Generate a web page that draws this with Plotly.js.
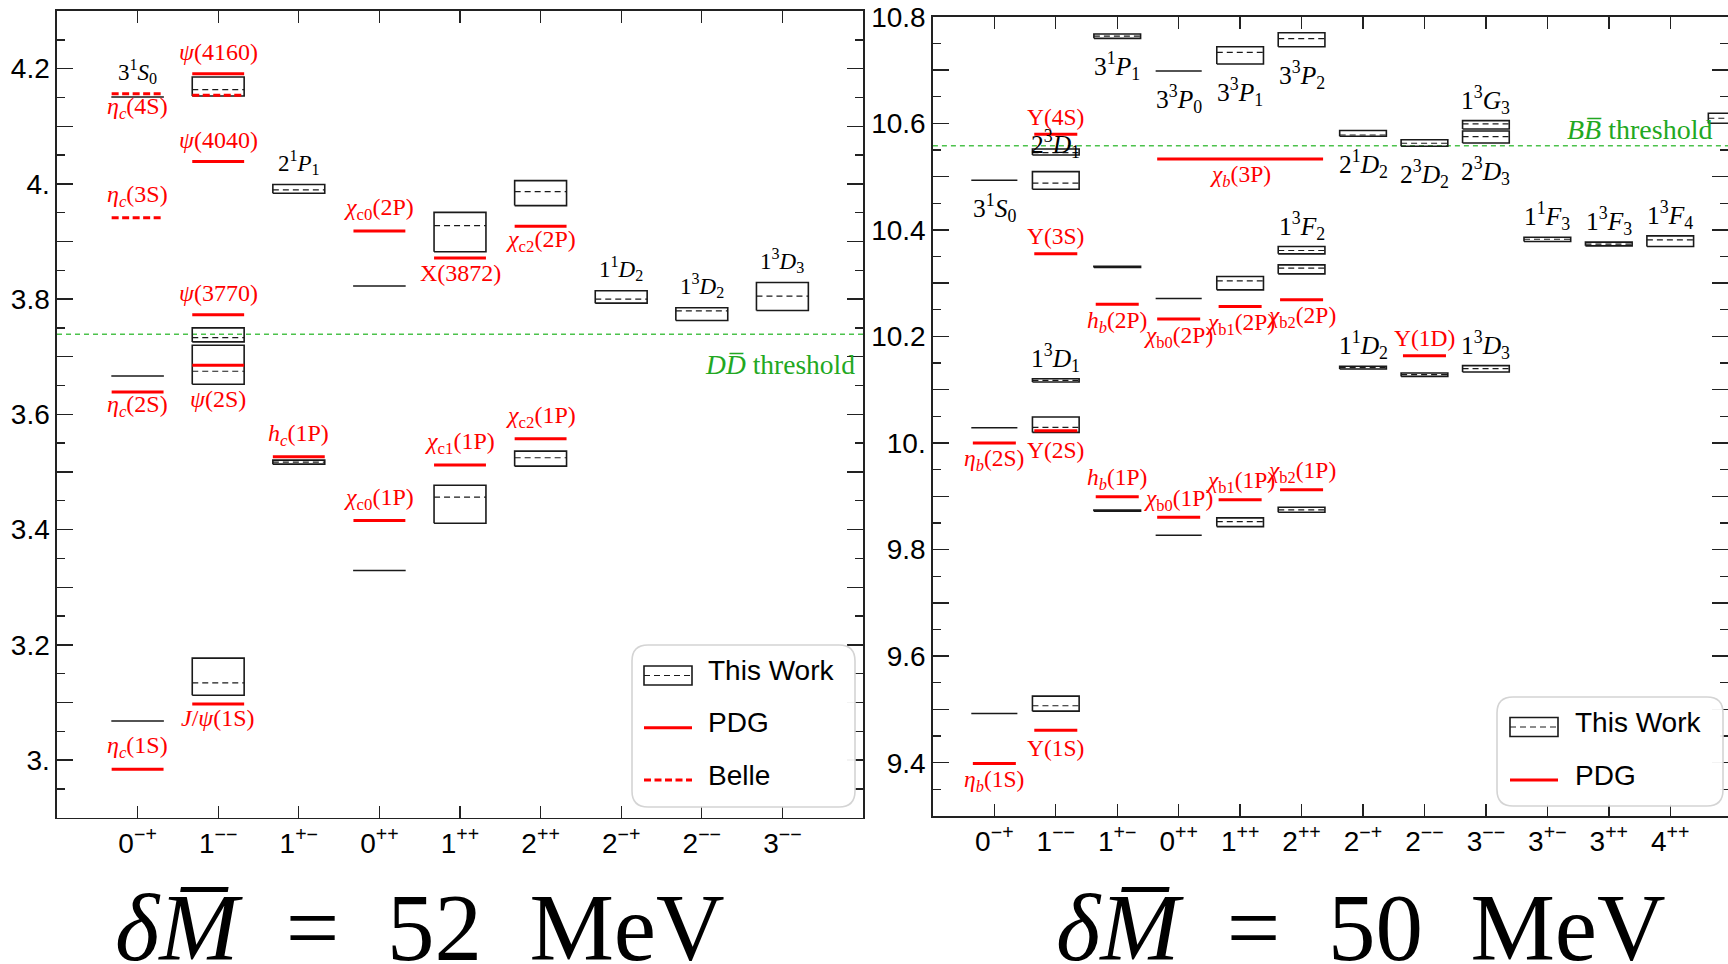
<!DOCTYPE html>
<html><head><meta charset="utf-8">
<script src="https://cdn.plot.ly/plotly-3.0.1.min.js"></script>
<style>html,body{margin:0;padding:0;background:#fff;overflow:hidden}#chart{width:1728px;height:964px}</style>
</head><body><div id="chart"></div>
<script>
// ================= DATA: charmonium (left panel), GeV =================
const ccCategories = ['0<sup>−+</sup>','1<sup>−−</sup>','1<sup>+−</sup>','0<sup>++</sup>','1<sup>++</sup>','2<sup>++</sup>','2<sup>−+</sup>','2<sup>−−</sup>','3<sup>−−</sup>'];
const ccYTickVals = [3.0, 3.2, 3.4, 3.6, 3.8, 4.0, 4.2];
const ccYTickText = ['3.', '3.2', '3.4', '3.6', '3.8', '4.', '4.2'];
// This Work (boxes: category index, low, high, central)
const ccBoxCat  = [2, 2, 2, 2, 3, 3, 5, 5, 6, 6, 7, 8, 9];
const ccBoxLow  = [4.1524, 3.7257, 3.6522, 3.1125, 3.9837, 3.5136, 3.8823, 3.4110, 3.9623, 3.5101, 3.7930, 3.7628, 3.7802];
const ccBoxHigh = [4.1854, 3.7501, 3.7200, 3.1769, 3.9988, 3.5205, 3.9506, 3.4770, 4.0057, 3.5362, 3.8144, 3.7849, 3.8289];
const ccBoxMid  = [4.1635, 3.7333, 3.6748, 3.1339, 3.9896, 3.5170, 3.9275, 3.4562, 3.9866, 3.5247, 3.8000, 3.7797, 3.8052];
// This Work (single levels)
const ccLineCat = [1, 1, 1, 4, 4];
const ccLineVal = [4.1506, 3.6667, 3.0680, 3.8226, 3.3292];
// PDG
const ccPdgCat = [1, 1, 2, 2, 2, 2, 2, 3, 4, 4, 5, 5, 6, 6];
const ccPdgVal = [3.6388, 2.9840, 4.1910, 4.0388, 3.7727, 3.6852, 3.0974, 3.5264, 3.9183, 3.4157, 3.8713, 3.5119, 3.9263, 3.5577];
// Belle
const ccBelleCat = [1, 1, 2];
const ccBelleVal = [4.1565, 3.9414, 4.1536];
// Threshold
const ccThreshold = 3.739;
// Level labels: text, category, value of the level it labels, side (a = above, b = below), PDG?
const ccLabelText = ['3<sup>1</sup><i>S</i><sub>0</sub>', '<i>η</i><sub><i>c</i></sub>(4S)', '<i>η</i><sub><i>c</i></sub>(3S)', '<i>η</i><sub><i>c</i></sub>(2S)', '<i>η</i><sub><i>c</i></sub>(1S)',
  '<i>ψ</i>(4160)', '<i>ψ</i>(4040)', '<i>ψ</i>(3770)', '<i>ψ</i>(2S)', '<i>J</i>/<i>ψ</i>(1S)',
  '2<sup>1</sup><i>P</i><sub>1</sub>', '<i>h</i><sub><i>c</i></sub>(1P)', '<i>χ</i><sub>c0</sub>(2P)', '<i>χ</i><sub>c0</sub>(1P)',
  'X(3872)', '<i>χ</i><sub>c1</sub>(1P)', '<i>χ</i><sub>c2</sub>(2P)', '<i>χ</i><sub>c2</sub>(1P)',
  '1<sup>1</sup><i>D</i><sub>2</sub>', '1<sup>3</sup><i>D</i><sub>2</sub>', '1<sup>3</sup><i>D</i><sub>3</sub>'];
const ccLabelCat = [1, 1, 1, 1, 1, 2, 2, 2, 2, 2, 3, 3, 4, 4, 5, 5, 6, 6, 7, 8, 9];
const ccLabelAt  = [4.1565, 4.1565, 3.9414, 3.6388, 2.9840, 4.1910, 4.0388, 3.7727, 3.6522, 3.0974, 3.9988, 3.5264, 3.9183, 3.4157, 3.8713, 3.5119, 3.9263, 3.5577, 3.8144, 3.7849, 3.8289];
const ccLabelSide = ['a','b','a','b','a','a','a','a','b','b','a','a','a','a','b','a','b','a','a','a','a'];
const ccLabelPdg  = [0,1,1,1,1,1,1,1,1,1,0,1,1,1,1,1,1,1,0,0,0];

// ================= DATA: bottomonium (right panel), GeV =================
const bbCategories = ['0<sup>−+</sup>','1<sup>−−</sup>','1<sup>+−</sup>','0<sup>++</sup>','1<sup>++</sup>','2<sup>++</sup>','2<sup>−+</sup>','2<sup>−−</sup>','3<sup>−−</sup>','3<sup>+−</sup>','3<sup>++</sup>','4<sup>++</sup>'];
const bbYTickVals = [9.4, 9.6, 9.8, 10.0, 10.2, 10.4, 10.6, 10.8];
const bbYTickText = ['9.4', '9.6', '9.8', '10.', '10.2', '10.4', '10.6', '10.8'];
const bbBoxCat  = [2, 2, 2, 2, 2, 3, 3, 3, 5, 5, 5, 6, 6, 6, 6, 7, 7, 8, 8, 9, 9, 9, 10, 11, 12, 13];
const bbBoxLow  = [10.5406, 10.4763, 10.1144, 10.0199, 9.4968, 10.7594, 10.3295, 9.8720, 10.7112, 10.2874, 9.8431, 10.7437, 10.3550, 10.3174, 9.8699, 10.5756, 10.1389, 10.5569, 10.1250, 10.5893, 10.5631, 10.1331, 10.3780, 10.3700, 10.3687, 10.6000];
const bbBoxHigh = [10.5518, 10.5093, 10.1206, 10.0488, 9.5249, 10.7675, 10.3315, 9.8740, 10.7437, 10.3124, 9.8594, 10.7700, 10.3687, 10.3343, 9.8793, 10.5863, 10.1439, 10.5690, 10.1313, 10.6049, 10.5856, 10.1451, 10.3862, 10.3769, 10.3887, 10.6188];
const bbBoxMid  = [10.5449, 10.4876, 10.1175, 10.0293, 9.5069, 10.7637, 10.3306, 9.8730, 10.7331, 10.3043, 9.8524, 10.7587, 10.3612, 10.3281, 9.8746, 10.5780, 10.1414, 10.5625, 10.1282, 10.5990, 10.5750, 10.1394, 10.3824, 10.3732, 10.3812, 10.6094];
const bbLineCat = [1, 1, 1, 4, 4, 4];
const bbLineVal = [10.4932, 10.0287, 9.4924, 10.6981, 10.2711, 9.8267];
const bbPdgCat    = [1, 1, 2, 2, 2, 2, 3, 3, 4, 4, 4, 5, 5, 6, 6, 8];
const bbPdgCatEnd = [1, 1, 2, 2, 2, 2, 3, 3, 6, 4, 4, 5, 5, 6, 6, 8];
const bbPdgVal    = [10.0000, 9.3987, 10.5794, 10.3550, 10.0230, 9.4611, 10.2606, 9.8993, 10.5331, 10.2325, 9.8605, 10.2562, 9.8937, 10.2687, 9.9124, 10.1637];
const bbThreshold = 10.558;
const bbLabelText = ['3<sup>1</sup><i>S</i><sub>0</sub>', '<i>η</i><sub><i>b</i></sub>(2S)', '<i>η</i><sub><i>b</i></sub>(1S)',
  'Υ(4S)', '2<sup>3</sup><i>D</i><sub>1</sub>', 'Υ(3S)', '1<sup>3</sup><i>D</i><sub>1</sub>', 'Υ(2S)', 'Υ(1S)',
  '3<sup>1</sup><i>P</i><sub>1</sub>', '<i>h</i><sub><i>b</i></sub>(2P)', '<i>h</i><sub><i>b</i></sub>(1P)',
  '3<sup>3</sup><i>P</i><sub>0</sub>', '<i>χ</i><sub><i>b</i></sub>(3P)', '<i>χ</i><sub>b0</sub>(2P)', '<i>χ</i><sub>b0</sub>(1P)',
  '3<sup>3</sup><i>P</i><sub>1</sub>', '<i>χ</i><sub>b1</sub>(2P)', '<i>χ</i><sub>b1</sub>(1P)',
  '3<sup>3</sup><i>P</i><sub>2</sub>', '1<sup>3</sup><i>F</i><sub>2</sub>', '<i>χ</i><sub>b2</sub>(2P)', '<i>χ</i><sub>b2</sub>(1P)',
  '2<sup>1</sup><i>D</i><sub>2</sub>', '1<sup>1</sup><i>D</i><sub>2</sub>', '2<sup>3</sup><i>D</i><sub>2</sub>', 'Υ(1D)',
  '1<sup>3</sup><i>G</i><sub>3</sub>', '2<sup>3</sup><i>D</i><sub>3</sub>', '1<sup>3</sup><i>D</i><sub>3</sub>',
  '1<sup>1</sup><i>F</i><sub>3</sub>', '1<sup>3</sup><i>F</i><sub>3</sub>', '1<sup>3</sup><i>F</i><sub>4</sub>'];
const bbLabelCat = [1, 1, 1, 2, 2, 2, 2, 2, 2, 3, 3, 3, 4, 5, 4, 4, 5, 5, 5, 6, 6, 6, 6, 7, 7, 8, 8, 9, 9, 9, 10, 11, 12];
const bbLabelAt  = [10.4932, 10.0000, 9.3987, 10.5794, 10.5518, 10.3550, 10.1206, 10.0199, 9.4611, 10.7594, 10.2606, 9.8993, 10.6981, 10.5331, 10.2325, 9.8605, 10.7112, 10.2562, 9.8937, 10.7437, 10.3687, 10.2687, 9.9124, 10.5756, 10.1439, 10.5569, 10.1637, 10.6049, 10.5631, 10.1451, 10.3862, 10.3769, 10.3887];
const bbLabelSide = ['b','b','b','a','o','a','a','b','b','b','b','a','b','b','b','a','b','b','a','b','a','b','a','b','a','b','a','a','b','a','a','a','a'];
const bbLabelPdg  = [0,1,1,1,0,1,0,1,1,0,1,1,0,1,1,1,0,1,1,0,0,1,1,0,0,0,1,0,0,0,0,0,0];

const panelTitles = ['<i>δ</i><i>M\u0305</i>\u2002=\u200252\u2002MeV', '<i>δ</i><i>M\u0305</i>\u2002=\u200250\u2002MeV'];
const legendLeft  = ['This Work', 'PDG', 'Belle'];
const legendRight = ['This Work', 'PDG'];

// ================= DRAWING =================
const W = 1728, H = 964;
const RED = '#ff0000', BLK = '#1a1a1a', GRN_LINE = '#4cc24c', GRN_TXT = '#22a822';
const SERIF = 'Liberation Serif, Times New Roman, serif';
const SANS = 'Liberation Sans, Arial, Helvetica, sans-serif';
const pxX = x => x / W, pxY = y => 1 - y / H;

function hsegs(cats, vals, hw, catsEnd) {
  const x = [], y = [];
  cats.forEach((c, i) => { const c2 = catsEnd ? catsEnd[i] : c; x.push(c - hw, c2 + hw, null); y.push(vals[i], vals[i], null); });
  return {x, y};
}
function rects(cats, lo, hi, hw) {
  const x = [], y = [];
  cats.forEach((c, i) => { x.push(c - hw, c + hw, c + hw, c - hw, c - hw, null); y.push(lo[i], lo[i], hi[i], hi[i], lo[i], null); });
  return {x, y};
}
function lineTrace(d, xa, ya, color, width, dash) {
  return {type: 'scatter', mode: 'lines', x: d.x, y: d.y, xaxis: xa, yaxis: ya, hoverinfo: 'skip', showlegend: false,
    connectgaps: false, line: {color: color, width: width, dash: dash || 'solid'}};
}

const traces = [];
// left panel
traces.push(lineTrace({x: [0, 10], y: [ccThreshold, ccThreshold]}, 'x', 'y', GRN_LINE, 1.5, '5px,4px'));
traces.push(lineTrace(rects(ccBoxCat, ccBoxLow, ccBoxHigh, 0.322), 'x', 'y', BLK, 1.6));
traces.push(lineTrace(hsegs(ccBoxCat, ccBoxMid, 0.322), 'x', 'y', BLK, 1.2, '6px,4px'));
traces.push(lineTrace(hsegs(ccLineCat, ccLineVal, 0.326), 'x', 'y', BLK, 1.5));
traces.push(lineTrace(hsegs(ccPdgCat, ccPdgVal, 0.322), 'x', 'y', RED, 3));
traces.push(lineTrace(hsegs(ccBelleCat, ccBelleVal, 0.322), 'x', 'y', RED, 3, '7px,3.5px'));
// right panel
traces.push(lineTrace({x: [0, 13], y: [bbThreshold, bbThreshold]}, 'x2', 'y2', GRN_LINE, 1.5, '5px,4px'));
traces.push(lineTrace(rects(bbBoxCat, bbBoxLow, bbBoxHigh, 0.38), 'x2', 'y2', BLK, 1.6));
traces.push(lineTrace(hsegs(bbBoxCat, bbBoxMid, 0.38), 'x2', 'y2', BLK, 1.2, '6px,4px'));
traces.push(lineTrace(hsegs(bbLineCat, bbLineVal, 0.375), 'x2', 'y2', BLK, 1.5));
traces.push(lineTrace(hsegs(bbPdgCat, bbPdgVal, 0.35, bbPdgCatEnd), 'x2', 'y2', RED, 3));

const annotations = [];
function addLabels(texts, cats, at, sides, pdg, xa, ya, sizes, off) {
  texts.forEach((t, i) => {
    const s = sides[i];
    let shift;
    if (s === 'a') shift = pdg[i] ? off.redAbove : off.blkAbove;
    else if (s === 'b') shift = pdg[i] ? -off.redBelow : -off.blkBelow;
    else shift = 5;
    annotations.push({text: t, x: cats[i], y: at[i], xref: xa, yref: ya, showarrow: false, xanchor: 'center', yanchor: 'middle',
      yshift: shift, font: {family: SERIF, size: pdg[i] ? sizes.red : sizes.blk, color: pdg[i] ? RED : '#000'}});
  });
}
addLabels(ccLabelText, ccLabelCat, ccLabelAt, ccLabelSide, ccLabelPdg, 'x', 'y', {red: 24, blk: 23}, {redAbove: 22, blkAbove: 22, redBelow: 14.5, blkBelow: 28});
addLabels(bbLabelText, bbLabelCat, bbLabelAt, bbLabelSide, bbLabelPdg, 'x2', 'y2', {red: 23.5, blk: 25.5}, {redAbove: 17.5, blkAbove: 21, redBelow: 17.5, blkBelow: 28});

annotations.push({text: '<i>D</i><i>D\u0305</i> threshold', xref: 'x domain', yref: 'y', x: 0.993, y: ccThreshold, xanchor: 'right', yanchor: 'middle', yshift: -30, showarrow: false, font: {family: SERIF, size: 27.5, color: GRN_TXT}});
annotations.push({text: '<i>B</i><i>B\u0305</i> threshold', xref: 'x2 domain', yref: 'y2', x: 0.983, y: bbThreshold, xanchor: 'right', yanchor: 'middle', yshift: 16, showarrow: false, font: {family: SERIF, size: 28, color: GRN_TXT}});

// panel captions
annotations.push({text: panelTitles[0], xref: 'paper', yref: 'paper', x: pxX(420), y: pxY(928), xanchor: 'center', yanchor: 'middle', showarrow: false, font: {family: SERIF, size: 95, color: '#000'}});
annotations.push({text: panelTitles[1], xref: 'paper', yref: 'paper', x: pxX(1361), y: pxY(928), xanchor: 'center', yanchor: 'middle', showarrow: false, font: {family: SERIF, size: 95, color: '#000'}});

// hand-made legends (rounded frames)
const shapes = [];
function roundRect(x0, y0, x1, y1, r) {
  const X = pxX, Y = pxY;
  return `M ${X(x0 + r)} ${Y(y0)} L ${X(x1 - r)} ${Y(y0)} Q ${X(x1)} ${Y(y0)} ${X(x1)} ${Y(y0 + r)} L ${X(x1)} ${Y(y1 - r)} Q ${X(x1)} ${Y(y1)} ${X(x1 - r)} ${Y(y1)} L ${X(x0 + r)} ${Y(y1)} Q ${X(x0)} ${Y(y1)} ${X(x0)} ${Y(y1 - r)} L ${X(x0)} ${Y(y0 + r)} Q ${X(x0)} ${Y(y0)} ${X(x0 + r)} ${Y(y0)} Z`;
}
function legend(box, iconX0, iconX1, textX, rowsY, labels, kinds) {
  shapes.push({type: 'path', xref: 'paper', yref: 'paper', path: roundRect(box[0], box[1], box[2], box[3], 16), line: {color: '#d4d4d4', width: 1.6}, fillcolor: 'rgba(255,255,255,0.95)', layer: 'above'});
  labels.forEach((lab, i) => {
    const yc = rowsY[i];
    if (kinds[i] === 'box') {
      shapes.push({type: 'rect', xref: 'paper', yref: 'paper', x0: pxX(iconX0), x1: pxX(iconX1), y0: pxY(yc + 9.5), y1: pxY(yc - 9.5), line: {color: BLK, width: 1.6}, layer: 'above'});
      shapes.push({type: 'line', xref: 'paper', yref: 'paper', x0: pxX(iconX0), x1: pxX(iconX1), y0: pxY(yc), y1: pxY(yc), line: {color: BLK, width: 1.2, dash: '6px,4px'}, layer: 'above'});
    } else {
      shapes.push({type: 'line', xref: 'paper', yref: 'paper', x0: pxX(iconX0), x1: pxX(iconX1), y0: pxY(yc), y1: pxY(yc), line: {color: RED, width: 3, dash: kinds[i] === 'dash' ? '7px,3.5px' : 'solid'}, layer: 'above'});
    }
    annotations.push({text: lab, xref: 'paper', yref: 'paper', x: pxX(textX), y: pxY(yc - 5), xanchor: 'left', yanchor: 'middle', showarrow: false, font: {family: SANS, size: 28, color: '#000'}});
  });
}
legend([632, 645, 855, 807], 644, 692, 706, [675.5, 727.7, 780], legendLeft, ['box', 'line', 'dash']);
legend([1497, 697, 1723, 806], 1510, 1558, 1573, [727, 780], legendRight, ['box', 'line']);

const axisCommon = {showgrid: false, zeroline: false, showline: true, linecolor: '#222', linewidth: 1.6, mirror: 'ticks', ticks: 'inside', tickcolor: '#222', tickwidth: 1.4, fixedrange: true,
  tickfont: {family: SANS, size: 28, color: '#000'}};
const layout = {
  width: W, height: H, margin: {l: 0, r: 0, t: 0, b: 0}, paper_bgcolor: '#fff', plot_bgcolor: '#fff', showlegend: false,
  xaxis: Object.assign({}, axisCommon, {domain: [pxX(57), pxX(863)], anchor: 'y', range: [0, 10], tickmode: 'array', tickvals: ccCategories.map((_, i) => i + 1), ticktext: ccCategories, ticklen: 12}),
  yaxis: Object.assign({}, axisCommon, {domain: [pxY(817.7), pxY(11)], anchor: 'x', range: [2.9, 4.3], tickmode: 'array', tickvals: ccYTickVals, ticktext: ccYTickText, ticklen: 16,
    minor: {tickmode: 'linear', tick0: 2.9, dtick: 0.05, ticklen: 8, ticks: 'inside', tickcolor: '#222', tickwidth: 1.4}}),
  // long unlabeled ticks at the odd tenths
  yaxis3: {overlaying: 'y', anchor: 'x', domain: [pxY(817.7), pxY(11)], range: [2.9, 4.3], showgrid: false, zeroline: false, showline: false, showticklabels: false, fixedrange: true,
    tickmode: 'linear', tick0: 2.9, dtick: 0.2, ticks: 'inside', ticklen: 16, tickcolor: '#222', tickwidth: 1.4, mirror: 'ticks'},
  xaxis2: Object.assign({}, axisCommon, {domain: [pxX(932.9), 1], anchor: 'y2', range: [0, 12.94], tickmode: 'array', tickvals: bbCategories.map((_, i) => i + 1), ticktext: bbCategories, ticklen: 12}),
  yaxis2: Object.assign({}, axisCommon, {domain: [pxY(816), pxY(16.7)], anchor: 'x2', range: [9.3, 10.8], tickmode: 'array', tickvals: bbYTickVals, ticktext: bbYTickText, ticklen: 16,
    minor: {tickmode: 'linear', tick0: 9.3, dtick: 0.05, ticklen: 8, ticks: 'inside', tickcolor: '#222', tickwidth: 1.4}}),
  yaxis4: {overlaying: 'y2', anchor: 'x2', domain: [pxY(816), pxY(16.7)], range: [9.3, 10.8], showgrid: false, zeroline: false, showline: false, showticklabels: false, fixedrange: true,
    tickmode: 'linear', tick0: 9.3, dtick: 0.2, ticks: 'inside', ticklen: 16, tickcolor: '#222', tickwidth: 1.4, mirror: 'ticks'},
  annotations: annotations,
  shapes: shapes
};
// invisible anchors so the helper tick axes are drawn
traces.push({type: 'scatter', mode: 'lines', x: [0], y: [3.0], xaxis: 'x', yaxis: 'y3', hoverinfo: 'skip', showlegend: false, line: {width: 0}});
traces.push({type: 'scatter', mode: 'lines', x: [0], y: [10.0], xaxis: 'x2', yaxis: 'y4', hoverinfo: 'skip', showlegend: false, line: {width: 0}});
Plotly.newPlot('chart', traces, layout, {staticPlot: true, displayModeBar: false});
</script></body></html>
